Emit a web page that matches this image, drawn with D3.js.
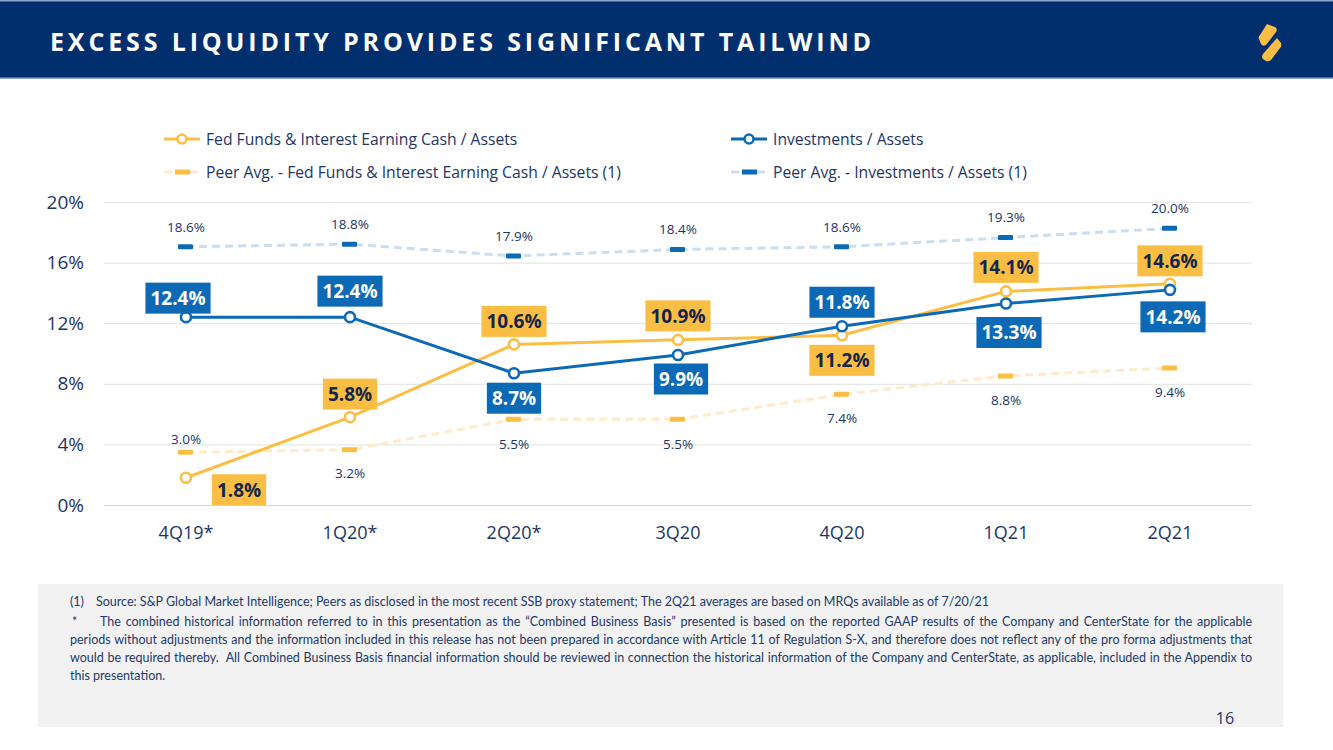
<!DOCTYPE html>
<html>
<head>
<meta charset="utf-8">
<script src="https://cdn.jsdelivr.net/npm/d3@7"></script>
<style>
  body { margin: 0; background: #fff; }
  svg { display: block; font-family: "Open Sans", "Noto Sans", sans-serif; }
</style>
</head>
<body>
<svg id="j-svg" width="1333" height="750" viewBox="0 0 1333 750"></svg>
<script>
'use strict';

/* global d3 */

var quarters = ['4Q19*', '1Q20*', '2Q20*', '3Q20', '4Q20', '1Q21', '2Q21'];
var fedFunds = [1.8, 5.8, 10.6, 10.9, 11.2, 14.1, 14.6];
var investments = [12.4, 12.4, 8.7, 9.9, 11.8, 13.3, 14.2];
var peerFedFunds = [3.0, 3.2, 5.5, 5.5, 7.4, 8.8, 9.4];
var peerInvestments = [18.6, 18.8, 17.9, 18.4, 18.6, 19.3, 20.0];
var yTicks = [0, 4, 8, 12, 16, 20];
var legendNames = [
  'Fed Funds & Interest Earning Cash / Assets',
  'Investments / Assets',
  'Peer Avg. - Fed Funds & Interest Earning Cash / Assets (1)',
  'Peer Avg. - Investments / Assets (1)'
];
var title = 'EXCESS LIQUIDITY PROVIDES SIGNIFICANT TAILWIND';
var noteSource = 'Source: S&P Global Market Intelligence; Peers as disclosed in the most recent SSB proxy statement; The 2Q21 averages are based on MRQs available as of 7/20/21';
var noteLines = [
  'The combined historical information referred to in this presentation as the \u201cCombined Business Basis\u201d presented is based on the reported GAAP results of the Company and CenterState for the applicable',
  'periods without adjustments and the information included in this release has not been prepared in accordance with Article 11 of Regulation S-X, and therefore does not reflect any of the pro forma adjustments that',
  'would be required thereby.  All Combined Business Basis financial information should be reviewed in connection the historical information of the Company and CenterState, as applicable, included in the Appendix to',
  'this presentation.'
];
var pageNumber = '16';

// label placement (offset of label centre from its point)
var fedLabelOffsets = [[53, 12], [0, -23], [0, -23], [0, -24], [0, 25], [0, -24], [0, -23]];
var invLabelOffsets = [[-8, -19], [0, -26], [0, 25], [3, 24], [0, -24], [3, 29], [3, 27]];
var peerFedLabelDy = [-13, 24, 25, 25, 24, 24, 24];
var peerInvLabelDy = -20;

var navy = '#1D3566';
var yellow = '#FBBE45';
var blue = '#0B69B5';
var peerYellow = '#FDEBC9';
var peerBlue = '#CBDDEE';

var svg = d3.select('#j-svg');

// header
svg.append('rect').attr('x', 0).attr('y', 0).attr('width', 1333).attr('height', 79).attr('fill', '#012F6E');
svg.append('rect').attr('x', 0).attr('y', 0).attr('width', 1333).attr('height', 1.5).attr('fill', '#8EA7CF');
svg.append('rect').attr('x', 0).attr('y', 77.5).attr('width', 1333).attr('height', 1.5).attr('fill', '#8EA7CF');
var titleText = svg.append('text').attr('x', 50).attr('y', 51)
  .attr('fill', '#fff').attr('font-size', 25).attr('font-weight', 700)
  .text(title);
var titleLen = titleText.node().getComputedTextLength();
titleText.attr('letter-spacing', ((825 - titleLen) / title.length) + 'px');

// logo
var logo = svg.append('g').attr('fill', yellow);
logo.append('path').attr('d', 'M1267,24 L1275,27 Q1278,29 1276,32 L1266,45 Q1263,47 1261,44 L1259,39 Q1258,37 1260,35 Z');
logo.append('path').attr('d', 'M1277,38 L1281,43 Q1282,46 1280,48 L1271,60 Q1269,62 1266,61 L1263,59 Q1261,57 1263,54 Z');

// chart
var x = d3.scaleBand().domain(quarters).range([104, 1252]);
var y = d3.scaleLinear().domain([0, 20]).range([505, 202]);
// peer series sit on a hidden secondary axis
var y2 = d3.scaleLinear().domain([-1, 22]).range([505, 202]);

function cx(d, i) {
  return x(quarters[i]) + x.bandwidth() / 2;
}

svg.append('g').attr('class', 'grid')
  .attr('transform', 'translate(104,0)')
  .call(d3.axisLeft(y).tickValues(yTicks).tickSize(-1148).tickFormat(''))
  .call(function (g) {
    g.select('.domain').remove();
    g.selectAll('line').attr('stroke', function (d) { return d === 0 ? '#C9D8EA' : '#E7E7E7'; }).attr('stroke-width', 1.2);
  });

svg.append('g').attr('class', 'y-axis')
  .attr('transform', 'translate(87,0)')
  .call(d3.axisLeft(y).tickValues(yTicks).tickSize(0).tickFormat(function (d) { return d + '%'; }))
  .call(function (g) {
    g.select('.domain').remove();
    g.selectAll('text').attr('fill', navy).attr('font-size', 19).attr('font-family', '"Open Sans", sans-serif');
  });

svg.append('g').attr('class', 'x-axis')
  .attr('transform', 'translate(0,523)')
  .call(d3.axisBottom(x).tickSize(0))
  .call(function (g) {
    g.select('.domain').remove();
    g.selectAll('text').attr('fill', navy).attr('font-size', 18).attr('font-family', '"Open Sans", sans-serif');
  });

// peer lines
var peerLine = d3.line().x(cx).y(function (d) { return y2(d); });
svg.append('path').datum(peerFedFunds).attr('d', peerLine)
  .attr('fill', 'none').attr('stroke', peerYellow).attr('stroke-width', 3).attr('stroke-dasharray', '8,5');
svg.append('path').datum(peerInvestments).attr('d', peerLine)
  .attr('fill', 'none').attr('stroke', peerBlue).attr('stroke-width', 3).attr('stroke-dasharray', '8,5');

svg.append('g').selectAll('rect').data(peerFedFunds).enter().append('rect')
  .attr('x', function (d, i) { return cx(d, i) - 8; })
  .attr('y', function (d) { return y2(d) - 2.5; })
  .attr('width', 15).attr('height', 5).attr('rx', 1).attr('fill', yellow);
svg.append('g').selectAll('rect').data(peerInvestments).enter().append('rect')
  .attr('x', function (d, i) { return cx(d, i) - 8; })
  .attr('y', function (d) { return y2(d) - 2.5; })
  .attr('width', 15).attr('height', 5).attr('rx', 1).attr('fill', blue);

// main lines
var line = d3.line().x(cx).y(function (d) { return y(d); });
[[fedFunds, yellow], [investments, blue]].forEach(function (s) {
  svg.append('path').datum(s[0]).attr('d', line)
    .attr('fill', 'none').attr('stroke', s[1]).attr('stroke-width', 3);
  svg.append('g').selectAll('circle').data(s[0]).enter().append('circle')
    .attr('cx', cx).attr('cy', function (d) { return y(d); }).attr('r', 5)
    .attr('fill', '#fff').attr('stroke', s[1]).attr('stroke-width', 2.6);
});

// peer labels
svg.append('g').selectAll('text').data(peerInvestments).enter().append('text')
  .attr('x', cx).attr('y', function (d) { return y2(d) + peerInvLabelDy; })
  .attr('dy', '0.35em').attr('text-anchor', 'middle')
  .attr('font-size', 13.5).attr('fill', navy)
  .text(function (d) { return d.toFixed(1) + '%'; });
svg.append('g').selectAll('text').data(peerFedFunds).enter().append('text')
  .attr('x', cx).attr('y', function (d, i) { return y2(d) + peerFedLabelDy[i]; })
  .attr('dy', '0.35em').attr('text-anchor', 'middle')
  .attr('font-size', 13.5).attr('fill', navy)
  .text(function (d) { return d.toFixed(1) + '%'; });

// boxed labels
function boxLabels(values, offsets, fill, color) {
  var g = svg.append('g').selectAll('g').data(values).enter().append('g')
    .attr('transform', function (d, i) {
      return 'translate(' + (cx(d, i) + offsets[i][0]) + ',' + (y(d) + offsets[i][1]) + ')';
    });
  g.append('rect').attr('fill', fill);
  g.append('text').attr('text-anchor', 'middle').attr('dy', '0.36em')
    .attr('font-size', 19).attr('font-weight', 700).attr('fill', color)
    .text(function (d) { return d.toFixed(1) + '%'; });
  g.each(function () {
    var t = d3.select(this).select('text').node().getComputedTextLength();
    d3.select(this).select('rect')
      .attr('x', -t / 2 - 5).attr('y', -15.5).attr('width', t + 10).attr('height', 31);
  });
}
boxLabels(fedFunds, fedLabelOffsets, yellow, '#13254A');
boxLabels(investments, invLabelOffsets, blue, '#fff');

// legend
var legendPos = [[164, 139], [731, 139], [164, 172], [731, 172]];
var legendColors = [yellow, blue, yellow, blue];
var legendLight = [yellow, blue, peerYellow, peerBlue];
var legend = svg.append('g').selectAll('g').data(legendNames).enter().append('g')
  .attr('transform', function (d, i) { return 'translate(' + legendPos[i][0] + ',' + legendPos[i][1] + ')'; });
legend.each(function (d, i) {
  var g = d3.select(this);
  if (i < 2) {
    g.append('line').attr('x1', 0).attr('x2', 36).attr('stroke', legendColors[i]).attr('stroke-width', 3);
    g.append('circle').attr('cx', 18).attr('r', 4.5).attr('fill', '#fff')
      .attr('stroke', legendColors[i]).attr('stroke-width', 2.5);
  } else {
    g.append('line').attr('x1', 0).attr('x2', 36).attr('stroke', legendLight[i])
      .attr('stroke-width', 3).attr('stroke-dasharray', '8,5');
    g.append('rect').attr('x', 11).attr('y', -2.5).attr('width', 15).attr('height', 5).attr('fill', legendColors[i]);
  }
  g.append('text').attr('x', 42).attr('dy', '0.35em').attr('font-size', 15.7).attr('fill', navy).text(d);
});

// footnote
svg.append('rect').attr('x', 38).attr('y', 584).attr('width', 1245).attr('height', 143).attr('fill', '#F2F2F2');
var notes = svg.append('g').attr('font-family', 'Lato, "Liberation Sans", sans-serif').attr('font-size', 12.5).attr('fill', '#22386A');
notes.append('text').attr('x', 70).attr('y', 606).text('(1)');
notes.append('text').attr('x', 96).attr('y', 606).text(noteSource);
notes.append('text').attr('x', 72).attr('y', 626).text('*');
var noteStarts = [100, 70, 70, 70];
var noteYs = [626, 644, 662, 680];
noteLines.forEach(function (l, i) {
  var t = notes.append('text').attr('x', noteStarts[i]).attr('y', noteYs[i]).attr('xml:space', 'preserve').text(l);
  if (i < noteLines.length - 1) {
    var w = t.node().getComputedTextLength();
    var gaps = l.split(' ').length - 1;
    t.attr('word-spacing', ((1252 - noteStarts[i] - w) / gaps) + 'px');
  }
});
svg.append('text').attr('x', 1225).attr('y', 724).attr('text-anchor', 'middle')
  .attr('font-size', 16).attr('fill', navy).text(pageNumber);
</script>
</body>
</html>
